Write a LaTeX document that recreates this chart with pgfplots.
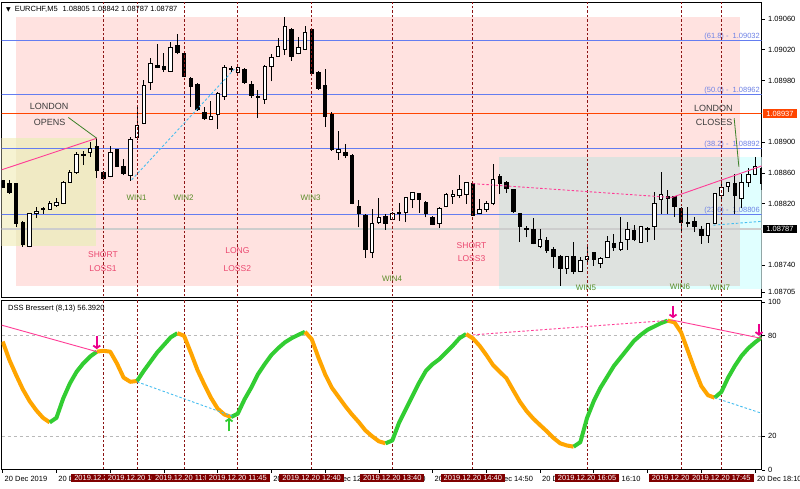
\documentclass[border=0pt]{standalone}
\usepackage{pgfplots}
\usepackage{pgfplotstable}
\pgfplotsset{compat=1.18}
\usepackage{fontspec}
\setmainfont{Liberation Sans}
\newfontfamily\dejavu{DejaVu Sans}
\usetikzlibrary{arrows.meta}

\definecolor{bgpink}{RGB}{255,226,224}
\definecolor{bgyel}{RGB}{240,234,196}
\definecolor{bgyellight}{RGB}{246,243,210}
\definecolor{bggrey}{RGB}{222,226,223}
\definecolor{bgcyan}{RGB}{224,255,255}
\definecolor{fibblue}{RGB}{100,125,240}
\definecolor{fibtext}{RGB}{110,130,230}
\definecolor{bidline}{RGB}{205,205,205}
\definecolor{levelred}{RGB}{255,69,0}
\definecolor{vline}{RGB}{140,20,20}
\definecolor{divpink}{RGB}{255,60,150}
\definecolor{divcyan}{RGB}{70,190,240}
\definecolor{losstext}{RGB}{235,70,110}
\definecolor{wintext}{RGB}{90,140,40}
\definecolor{londontext}{RGB}{60,60,60}
\definecolor{pointer}{RGB}{60,130,40}
\definecolor{dssorange}{RGB}{255,165,0}
\definecolor{dssgreen}{RGB}{50,205,50}
\definecolor{timebox}{RGB}{128,0,0}

\pgfplotsset{
  tick label style={font=\fontsize{7.5}{9}\selectfont},
  vl/.style={vline, line width=0.9pt, dash pattern=on 2.5pt off 2pt},
}

% EURCHF M5 candles: bar, open, high, low, close
\pgfplotstableread{
i o h l c
0 1.08850 1.08851 1.08840 1.08841
1 1.08846 1.08851 1.08833 1.08835
2 1.08846 1.08847 1.08790 1.08794
3 1.08795 1.08797 1.08764 1.08767
4 1.08765 1.08808 1.08763 1.08807
5 1.08807 1.08815 1.08801 1.08810
6 1.08812 1.08815 1.08807 1.08814
7 1.08813 1.08823 1.08812 1.08820
8 1.08818 1.08827 1.08816 1.08822
9 1.08820 1.08849 1.08819 1.08847
10 1.08848 1.08864 1.08847 1.08861
11 1.08861 1.08887 1.08859 1.08884
12 1.08883 1.08889 1.08870 1.08884
13 1.08886 1.08900 1.08881 1.08892
14 1.08895 1.08905 1.08853 1.08863
15 1.08860 1.08862 1.08851 1.08853
16 1.08855 1.08895 1.08854 1.08887
17 1.08890 1.08891 1.08868 1.08869
18 1.08868 1.08878 1.08857 1.08859
19 1.08857 1.08906 1.08850 1.08904
20 1.08906 1.08945 1.08903 1.08922
21 1.08924 1.08981 1.08923 1.08974
22 1.08977 1.09009 1.08968 1.09002
23 1.09000 1.09028 1.08996 1.08997
24 1.08999 1.09016 1.08991 1.08994
25 1.08992 1.09030 1.08991 1.09023
26 1.09026 1.09040 1.09014 1.09016
27 1.09015 1.09017 1.08985 1.08986
28 1.08983 1.08985 1.08946 1.08972
29 1.08975 1.08977 1.08941 1.08942
30 1.08939 1.08946 1.08929 1.08931
31 1.08930 1.08954 1.08929 1.08934
32 1.08936 1.08965 1.08917 1.08963
33 1.08960 1.09000 1.08955 1.08997
34 1.08994 1.08999 1.08991 1.08996
35 1.08991 1.09002 1.08990 1.08997
36 1.08994 1.08996 1.08976 1.08977
37 1.08975 1.08980 1.08957 1.08961
38 1.08960 1.08968 1.08931 1.08958
39 1.08956 1.09000 1.08950 1.08999
40 1.08999 1.09015 1.08979 1.09010
41 1.09012 1.09035 1.09011 1.09024
42 1.09021 1.09062 1.09013 1.09050
43 1.09047 1.09048 1.09006 1.09012
44 1.09015 1.09036 1.09014 1.09023
45 1.09021 1.09051 1.09020 1.09042
46 1.09046 1.09048 1.08987 1.08989
47 1.08991 1.08992 1.08968 1.08970
48 1.08974 1.08995 1.08920 1.08934
49 1.08936 1.08939 1.08889 1.08890
50 1.08887 1.08915 1.08877 1.08890
51 1.08887 1.08898 1.08879 1.08883
52 1.08883 1.08884 1.08819 1.08820
53 1.08817 1.08825 1.08789 1.08807
54 1.08805 1.08807 1.08749 1.08761
55 1.08757 1.08813 1.08749 1.08794
56 1.08796 1.08827 1.08794 1.08802
57 1.08804 1.08807 1.08786 1.08794
58 1.08800 1.08809 1.08799 1.08807
59 1.08809 1.08821 1.08798 1.08807
60 1.08809 1.08829 1.08796 1.08828
61 1.08826 1.08835 1.08814 1.08834
62 1.08833 1.08834 1.08808 1.08825
63 1.08822 1.08824 1.08802 1.08807
64 1.08802 1.08804 1.08792 1.08793
65 1.08794 1.08816 1.08788 1.08814
66 1.08816 1.08834 1.08815 1.08832
67 1.08829 1.08838 1.08820 1.08832
68 1.08831 1.08857 1.08827 1.08838
69 1.08832 1.08848 1.08820 1.08847
70 1.08846 1.08847 1.08804 1.08805
71 1.08807 1.08826 1.08806 1.08812
72 1.08812 1.08824 1.08809 1.08820
73 1.08820 1.08872 1.08818 1.08852
74 1.08856 1.08859 1.08833 1.08846
75 1.08848 1.08849 1.08834 1.08840
76 1.08838 1.08839 1.08808 1.08810
77 1.08807 1.08808 1.08770 1.08791
78 1.08788 1.08791 1.08776 1.08787
79 1.08786 1.08801 1.08767 1.08768
80 1.08765 1.08787 1.08762 1.08774
81 1.08772 1.08777 1.08756 1.08759
82 1.08761 1.08763 1.08736 1.08752
83 1.08752 1.08753 1.08713 1.08736
84 1.08736 1.08752 1.08729 1.08751
85 1.08752 1.08770 1.08728 1.08732
86 1.08732 1.08751 1.08731 1.08746
87 1.08748 1.08766 1.08742 1.08752
88 1.08756 1.08757 1.08739 1.08748
89 1.08742 1.08750 1.08736 1.08749
90 1.08750 1.08778 1.08749 1.08771
91 1.08768 1.08781 1.08759 1.08763
92 1.08761 1.08802 1.08759 1.08770
93 1.08773 1.08796 1.08760 1.08787
94 1.08785 1.08792 1.08771 1.08773
95 1.08770 1.08791 1.08769 1.08790
96 1.08786 1.08790 1.08770 1.08788
97 1.08790 1.08835 1.08773 1.08820
98 1.08825 1.08861 1.08807 1.08832
99 1.08829 1.08838 1.08807 1.08827
100 1.08829 1.08830 1.08803 1.08816
101 1.08814 1.08815 1.08784 1.08795
102 1.08796 1.08815 1.08789 1.08794
103 1.08797 1.08803 1.08783 1.08791
104 1.08787 1.08791 1.08768 1.08779
105 1.08779 1.08795 1.08769 1.08794
106 1.08794 1.08834 1.08793 1.08833
107 1.08831 1.08851 1.08825 1.08841
108 1.08843 1.08848 1.08835 1.08847
109 1.08846 1.08859 1.08807 1.08831
110 1.08827 1.08859 1.08814 1.08848
111 1.08847 1.08866 1.08841 1.08858
112 1.08858 1.08881 1.08857 1.08869
113 1.08866 1.08868 1.08838 1.08846
}\bars

% DSS Bressert (8,13) per bar
\pgfplotstableread{
i v
0 76.5
1 65.5
2 56.5
3 48
4 41
5 35.5
6 31
7 28.3
8 31
9 42.5
10 51.5
11 58.5
12 63.5
13 67.5
14 70.5
15 71
16 70.5
17 63.5
18 55
19 52.5
20 53
21 59
22 64.5
23 70
24 74.5
25 79
26 81.5
27 80
28 70
29 59.5
30 51
31 43
32 36.5
33 33
34 31.5
35 33.5
36 42
37 49
38 57
39 63
40 68.5
41 72.5
42 76
43 78.5
44 80.5
45 82.3
46 78
47 67
48 57
49 49
50 43.5
51 38
52 33
53 28.5
54 23.5
55 20
56 17
57 15.8
58 17.5
59 28
60 36
61 44
62 52
63 59
64 63
65 66
66 70
67 74
68 78.5
69 81
70 78.4
71 74
72 68.5
73 62.5
74 58.5
75 54.6
76 47.5
77 40.6
78 35
79 30.5
80 26.7
81 23
82 19
83 15.8
84 14.5
85 13.8
86 16.5
87 31
88 41
89 49
90 55.5
91 62
92 67
93 72
94 77
95 80.5
96 83.5
97 85.5
98 87.5
99 89
100 88
101 82
102 71
103 60
104 50
105 44.5
106 43
107 46.5
108 55
109 62
110 68
111 72.5
112 76
113 79
}\dss

\pgfplotstablegetrowsof{\bars}
\pgfmathtruncatemacro{\lastbar}{\pgfplotsretval-1}

\begin{document}
\begin{tikzpicture}[font=\fontsize{7.5}{9}\selectfont]
\fill[white] (0,0) rectangle (800pt,-488pt);
\useasboundingbox (0,0) rectangle (800pt,-488pt);

% ---------------- price panel ----------------
\begin{axis}[
  at={(1.7pt,-2pt)}, anchor=north west,
  scale only axis, width=760pt, height=295.7pt,
  xmin=-0.15, xmax=113, ymin=1.086977, ymax=1.090821,
  clip mode=individual,
  axis line style={line width=0.8pt},
  xtick=\empty,
  ytick pos=right, tick align=outside, major tick length=3pt,
  tick style={black, line width=0.6pt},
  ytick={1.08705,1.08740,1.08820,1.08860,1.08900,1.08980,1.09020,1.09060},
  yticklabels={1.08705,1.08740,1.08820,1.08860,1.08900,1.08980,1.09020,1.09060},
  scaled y ticks=false,
]
% session boxes
\addplot[draw=none, fill=bgyellight] coordinates {(-1,1.08765) (13.9,1.08765) (13.9,1.08905) (-1,1.08905)} --cycle;
\addplot[draw=none, fill=bgpink] coordinates {(1.98,1.08713) (109.8,1.08713) (109.8,1.09062) (1.98,1.09062)} --cycle;
\addplot[draw=none, fill=bgyel] coordinates {(1.98,1.08765) (13.9,1.08765) (13.9,1.08905) (1.98,1.08905)} --cycle;
\addplot[draw=none, fill=bgcyan] coordinates {(73.93,1.08709) (114,1.08709) (114,1.08881) (73.93,1.08881)} --cycle;
\addplot[draw=none, fill=bggrey] coordinates {(73.93,1.08713) (109.8,1.08713) (109.8,1.08881) (73.93,1.08881)} --cycle;

% levels
\addplot[bidline, line width=1.6pt] coordinates {(-1,1.08787) (114,1.08787)};
\addplot[fibblue, line width=0.8pt] coordinates {(-1,1.09032) (114,1.09032)};
\addplot[fibblue, line width=0.8pt] coordinates {(-1,1.08962) (114,1.08962)};
\addplot[fibblue, line width=0.8pt] coordinates {(-1,1.08892) (114,1.08892)};
\addplot[fibblue, line width=0.8pt] coordinates {(-1,1.08806) (114,1.08806)};
\addplot[levelred, line width=0.8pt] coordinates {(-1,1.08937) (114,1.08937)};

\node[fibtext, anchor=base east, inner sep=0, yshift=2pt] at (axis cs:112.75,1.09032) {(61.8) - \ 1.09032};
\node[fibtext, anchor=base east, inner sep=0, yshift=2pt] at (axis cs:112.75,1.08962) {(50.0) - \ 1.08962};
\node[fibtext, anchor=base east, inner sep=0, yshift=2pt] at (axis cs:112.75,1.08892) {(38.2) - \ 1.08892};
\node[fibtext, anchor=base east, inner sep=0, yshift=2pt] at (axis cs:112.75,1.08806) {(23.6) - \ 1.08806};

% candles
\pgfplotsforeachungrouped \k in {0,...,\lastbar}{%
  \pgfplotstablegetelem{\k}{i}\of\bars \let\ci\pgfplotsretval
  \pgfplotstablegetelem{\k}{o}\of\bars \let\co\pgfplotsretval
  \pgfplotstablegetelem{\k}{h}\of\bars \let\ch\pgfplotsretval
  \pgfplotstablegetelem{\k}{l}\of\bars \let\cl\pgfplotsretval
  \pgfplotstablegetelem{\k}{c}\of\bars \let\cc\pgfplotsretval
  \pgfmathsetmacro{\xl}{\ci-0.26}%
  \pgfmathsetmacro{\xr}{\ci+0.26}%
  \ifdim\cc pt>\co pt \def\bfill{white}\else\def\bfill{black}\fi
  \edef\candle{%
    \noexpand\addplot[black, line width=0.9pt] coordinates {(\ci,\cl) (\ci,\ch)};
    \noexpand\addplot[draw=black, fill=\bfill, line width=0.8pt] coordinates {(\xl,\co) (\xr,\co) (\xr,\cc) (\xl,\cc)} --cycle;
  }%
  \candle
}

% trade markers
\pgfplotsinvokeforeach{15,20,27,35,46,58,70,87,101,107}{
  \addplot[vl] coordinates {(#1,1.0860) (#1,1.0910)};
}

% divergence lines
\addplot[divpink, line width=0.9pt] coordinates {(-0.15,1.08864) (14,1.08905)};
\addplot[pointer, line width=0.8pt] coordinates {(9.77,1.08932) (14,1.08905)};
\addplot[divcyan, line width=0.9pt, dash pattern=on 2.5pt off 2pt] coordinates {(19.2,1.08851) (34.6,1.08996)};
\addplot[divpink, line width=0.9pt, dash pattern=on 2.5pt off 2pt] coordinates {(70,1.08846) (99.6,1.08828)};
\addplot[divpink, line width=0.9pt] coordinates {(99.6,1.08828) (113,1.08869)};
\addplot[divcyan, line width=0.9pt, dash pattern=on 2.5pt off 2pt] coordinates {(105.8,1.08792) (113,1.08797)};
\addplot[pointer, line width=0.8pt] coordinates {(108.9,1.08931) (109.6,1.08868)};

% annotations
\node[londontext, font=\fontsize{9}{10}\selectfont] at (axis cs:6.9,1.08947) {LONDON};
\node[londontext, font=\fontsize{9}{10}\selectfont] at (axis cs:7.0,1.08926) {OPENS};
\node[londontext, font=\fontsize{9}{10}\selectfont] at (axis cs:105.8,1.08944) {LONDON};
\node[londontext, font=\fontsize{9}{10}\selectfont] at (axis cs:105.9,1.08925) {CLOSES};
\node[losstext, font=\fontsize{8.5}{10}\selectfont] at (axis cs:14.93,1.08754) {SHORT};
\node[losstext, font=\fontsize{8.5}{10}\selectfont] at (axis cs:14.93,1.08735) {LOSS1};
\node[losstext, font=\fontsize{8.5}{10}\selectfont] at (axis cs:34.93,1.08759) {LONG};
\node[losstext, font=\fontsize{8.5}{10}\selectfont] at (axis cs:34.93,1.08735) {LOSS2};
\node[losstext, font=\fontsize{8.5}{10}\selectfont] at (axis cs:69.8,1.08765) {SHORT};
\node[losstext, font=\fontsize{8.5}{10}\selectfont] at (axis cs:69.8,1.08748) {LOSS3};
\node[wintext, font=\fontsize{8}{10}\selectfont] at (axis cs:19.92,1.08828) {WIN1};
\node[wintext, font=\fontsize{8}{10}\selectfont] at (axis cs:26.92,1.08828) {WIN2};
\node[wintext, font=\fontsize{8}{10}\selectfont] at (axis cs:45.85,1.08827) {WIN3};
\node[wintext, font=\fontsize{8}{10}\selectfont] at (axis cs:57.96,1.08722) {WIN4};
\node[wintext, font=\fontsize{8}{10}\selectfont] at (axis cs:86.84,1.08711) {WIN5};
\node[wintext, font=\fontsize{8}{10}\selectfont] at (axis cs:100.83,1.08712) {WIN6};
\node[wintext, font=\fontsize{8}{10}\selectfont] at (axis cs:106.79,1.08711) {WIN7};

\coordinate (p937) at (axis cs:113,1.08937);
\coordinate (p787) at (axis cs:113,1.08787);
\end{axis}

% ---------------- DSS panel ----------------
\begin{axis}[
  at={(1.7pt,-300pt)}, anchor=north west,
  scale only axis, width=760pt, height=169.8pt,
  xmin=-0.15, xmax=113, ymin=0, ymax=101.3,
  clip mode=individual,
  axis line style={line width=0.8pt},
  ytick pos=right, xtick pos=bottom, tick align=outside, major tick length=3pt,
  tick style={black, line width=0.6pt},
  ytick={0,20,80,100}, yticklabels={0,20,80,100},
  xtick={0,8,...,112},
  xticklabels={20 Dec 2019,20 Dec 09:30,20 Dec 10:10,20 Dec 10:50,20 Dec 11:30,20 Dec 12:10,20 Dec 12:50,20 Dec 13:30,20 Dec 14:10,20 Dec 14:50,20 Dec 15:30,20 Dec 16:10,20 Dec 16:50,20 Dec 17:30,20 Dec 18:10},
  xticklabel style={anchor=north west, xshift=-1.5pt},
]
\addplot[gray!55, line width=0.7pt, dash pattern=on 3pt off 3pt] coordinates {(-1,80) (114,80)};
\addplot[gray!55, line width=0.7pt, dash pattern=on 3pt off 3pt] coordinates {(-1,20) (114,20)};

\pgfplotsinvokeforeach{15,20,27,35,46,58,70,87,101,107}{
  \addplot[vl] coordinates {(#1,-5) (#1,110)};
  \coordinate (t#1) at (axis cs:#1,0);
}

\addplot[dssorange, line width=4pt, line join=round] table[x=i, y=v, restrict x to domain=0:7] {\dss};
\addplot[dssgreen, line width=4pt, line join=round] table[x=i, y=v, restrict x to domain=7:14] {\dss};
\addplot[dssorange, line width=4pt, line join=round] table[x=i, y=v, restrict x to domain=14:20] {\dss};
\addplot[dssgreen, line width=4pt, line join=round] table[x=i, y=v, restrict x to domain=20:26] {\dss};
\addplot[dssorange, line width=4pt, line join=round] table[x=i, y=v, restrict x to domain=26:34] {\dss};
\addplot[dssgreen, line width=4pt, line join=round] table[x=i, y=v, restrict x to domain=34:45] {\dss};
\addplot[dssorange, line width=4pt, line join=round] table[x=i, y=v, restrict x to domain=45:57] {\dss};
\addplot[dssgreen, line width=4pt, line join=round] table[x=i, y=v, restrict x to domain=57:69] {\dss};
\addplot[dssorange, line width=4pt, line join=round] table[x=i, y=v, restrict x to domain=69:85] {\dss};
\addplot[dssgreen, line width=4pt, line join=round] table[x=i, y=v, restrict x to domain=85:99] {\dss};
\addplot[dssorange, line width=4pt, line join=round] table[x=i, y=v, restrict x to domain=99:106] {\dss};
\addplot[dssgreen, line width=4pt, line join=round] table[x=i, y=v, restrict x to domain=106:113] {\dss};

\addplot[divpink, line width=0.9pt] coordinates {(-0.15,86.3) (14,70.5)};
\addplot[divcyan, line width=0.9pt, dash pattern=on 2.5pt off 2pt] coordinates {(20,52.5) (34.2,32)};
\addplot[divpink, line width=0.9pt, dash pattern=on 2.5pt off 2pt] coordinates {(70,80.5) (99.7,89.3)};
\addplot[divpink, line width=0.9pt] coordinates {(99.7,89.3) (113,78.4)};
\addplot[divcyan, line width=0.9pt, dash pattern=on 2.5pt off 2pt] coordinates {(106,43) (113,33.7)};

\draw[magenta, line width=1.8pt, -{Straight Barb[length=2.5pt,width=7pt]}] (axis cs:14,80) -- (axis cs:14,72);
\draw[magenta, line width=1.8pt, -{Straight Barb[length=2.5pt,width=7pt]}] (axis cs:99.8,98) -- (axis cs:99.8,90.5);
\draw[magenta, line width=1.8pt, -{Straight Barb[length=2.5pt,width=7pt]}] (axis cs:112.6,87) -- (axis cs:112.6,80);
\draw[dssgreen, line width=1.8pt, -{Straight Barb[length=2.5pt,width=7pt]}] (axis cs:33.7,23) -- (axis cs:33.7,31);
\end{axis}

% time stamps of the trade markers
\foreach \b/\t in {15/10:05,20/10:30,27/11:05,35/11:45,46/12:40,58/13:40,70/14:40,87/16:05,101/17:15,107/17:45}{
  \node[fill=timebox, text=white, inner xsep=3pt, inner ysep=1.5pt] at ([yshift=-8.5pt]t\b) {2019.12.20 \t};
}

% price scale flags
\node[fill=levelred, text=white, anchor=west, inner xsep=3.5pt, inner ysep=1.5pt] at ([xshift=1pt]p937) {1.08937};
\node[fill=black, text=white, anchor=west, inner xsep=3.5pt, inner ysep=1.5pt] at ([xshift=1pt]p787) {1.08787};

% header texts
\node[anchor=west, inner sep=0] at (6pt,-9pt) {{\dejavu\fontsize{6}{6}\selectfont ▼}\hspace{4pt}EURCHF,M5\hspace{5pt}1.08805 1.08842 1.08787 1.08787};
\node[anchor=west, inner sep=0] at (8pt,-308.3pt) {DSS Bressert (8,13) 56.3920};
\end{tikzpicture}
\end{document}
